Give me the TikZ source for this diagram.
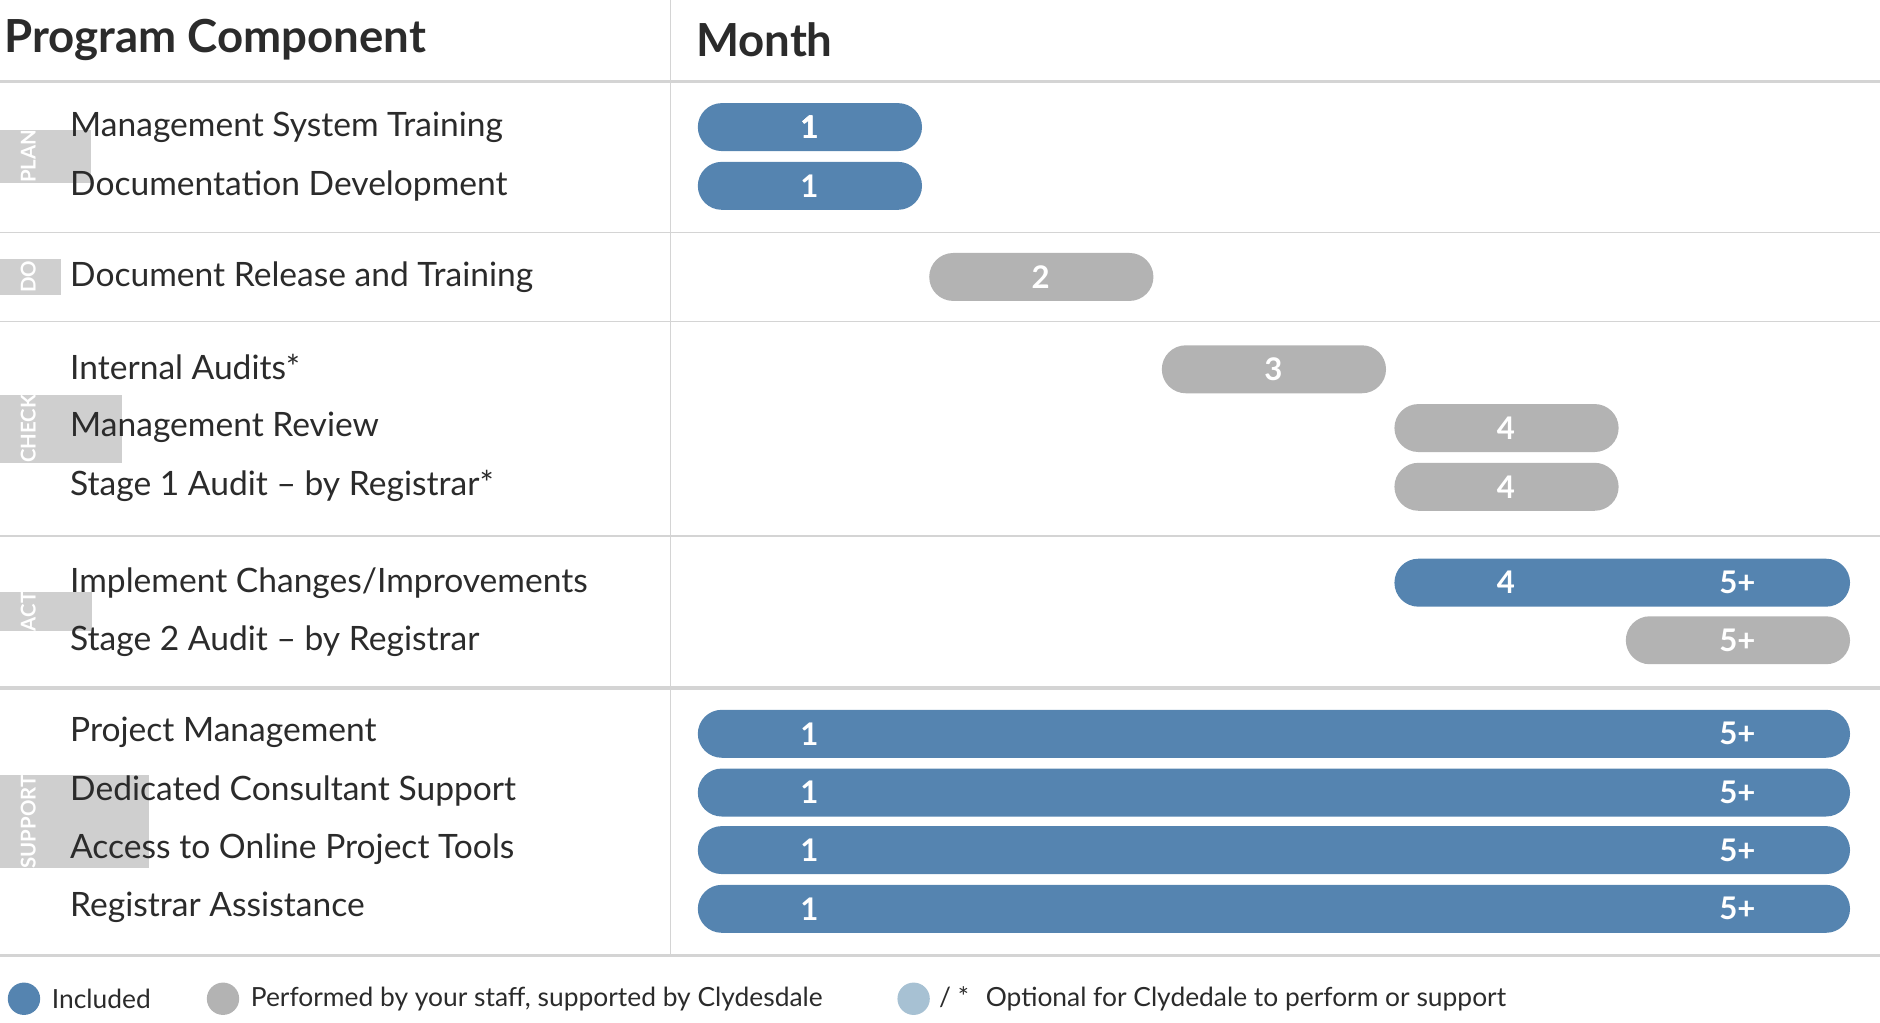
\documentclass[tikz,border=0pt]{standalone}
\usepackage{fontspec}
\setmainfont{Lato}
\usetikzlibrary{positioning}
\definecolor{incl}{HTML}{5584B0}
\definecolor{staff}{HTML}{B3B3B3}
\definecolor{opt}{HTML}{A7C1D3}
\definecolor{side}{HTML}{CFCFCF}
\definecolor{rule}{HTML}{D4D4D4}
\definecolor{ink}{HTML}{2B2B2B}
\tikzset{
  head/.style={anchor=west, font=\fontsize{38}{40}\selectfont\bfseries, text=ink},
  row/.style={anchor=west, font=\fontsize{28}{30}\selectfont, text=ink},
  phase/.style={fill=side, draw=none, minimum width=30pt, rotate=90, text=white,
                font=\fontsize{17}{18}\selectfont\bfseries, inner sep=0pt},
  bar/.style={draw=none, rounded corners=20pt, minimum height=40pt, inner sep=0pt},
  num/.style={text=white, font=\fontsize{26}{28}\selectfont\bfseries},
  legend/.style={anchor=west, font=\fontsize{22}{24}\selectfont, text=ink},
  dot/.style={circle, minimum size=27pt, inner sep=0pt, draw=none}
}
% bar: name, colour, first x, last x, y
\newcommand{\gbar}[5]{\node[bar, fill=#2, minimum width={#4-#3}] (#1) at ({(#3+#4)/2},#5) {};}
\begin{document}
\begin{tikzpicture}[x=1pt, y=-1pt]
\useasboundingbox (0,0) rectangle (1568,853);
% headers
\node[head] (hcomp) at (0,33) {Program Component};
\node[head] (hmonth) at (577,33) {Month};
% rules
\draw[rule, line width=1pt] (559,0) -- (559,797);
\foreach \y in {194,268,447} \draw[rule, line width=1.2pt] (0,\y) -- (1568,\y);
\foreach \y in {68,574,797} \draw[rule, line width=3pt] (0,\y) -- (1568,\y);
% phases
\node[phase, minimum height=105pt] (plan) at (23.5,130.5) {PLAN};
\node[phase, minimum height=54pt] (do) at (23.5,231) {DO};
\node[phase, minimum height=157pt] (check) at (23.5,357.5) {CHECK};
\node[phase, minimum height=106pt] (act) at (23.5,510) {ACT};
\node[phase, minimum height=201pt] (support) at (23.5,685.5) {SUPPORT};
% rows
\node[row] (r1) at (55,106) {Management System Training};
\node[row] (r2) at (55,155) {Documentation Development};
\node[row] (r3) at (55,231) {Document Release and Training};
\node[row] (r4) at (55,306) {Internal Audits*};
\node[row] (r5) at (55,356) {Management Review};
\node[row] (r6) at (55,405) {Stage 1 Audit -- by Registrar*};
\node[row] (r7) at (55,486) {Implement Changes/Improvements};
\node[row] (r8) at (55,535) {Stage 2 Audit -- by Registrar};
\node[row] (r9) at (55,611) {Project Management};
\node[row] (r10) at (55,660) {Dedicated Consultant Support};
\node[row] (r11) at (55,708) {Access to Online Project Tools};
\node[row] (r12) at (55,757) {Registrar Assistance};
% bars
\gbar{b1}{incl}{582}{769}{106}
\gbar{b2}{incl}{582}{769}{155}
\gbar{b3}{staff}{775}{962}{231}
\gbar{b4}{staff}{969}{1156}{308}
\gbar{b5}{staff}{1163}{1350}{357}
\gbar{b6}{staff}{1163}{1350}{406}
\gbar{b7}{incl}{1163}{1543}{486}
\gbar{b8}{staff}{1356}{1543}{534}
\foreach \n/\y in {b9/612,b10/661,b11/709,b12/758}
  \gbar{\n}{incl}{582}{1543}{\y}
% numbers
\node[num] at (675,106) {1};
\node[num] at (675,155) {1};
\node[num] at (868,231) {2};
\node[num] at (1062,308) {3};
\node[num] at (1256,357) {4};
\node[num] at (1256,406) {4};
\node[num] at (1256,486) {4};
\node[num] at (1449,486) {5+};
\node[num] at (1449,534) {5+};
\foreach \y in {612,661,709,758} {
  \node[num] at (675,\y) {1};
  \node[num] at (1449,\y) {5+};
}
% legend
\node[dot, fill=incl] (d1) at (20,833) {};
\node[legend, right=6pt of d1] (l1) {Included};
\node[dot, fill=staff] (d2) at (186,833) {};
\node[legend, right=6pt of d2] (l2) {Performed by your staff, supported by Clydesdale};
\node[dot, fill=opt] (d3) at (762,833) {};
\node[legend, right=4pt of d3] (l3) {/ *\hspace{14pt}Optional for Clydedale to perform or support};
\end{tikzpicture}
\end{document}
